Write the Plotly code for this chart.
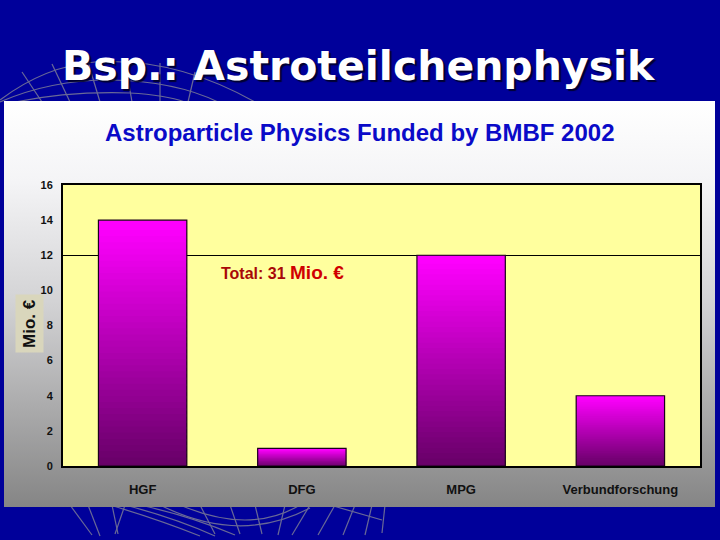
import plotly.graph_objects as go

# ---------------- data ----------------
categories = ["HGF", "DFG", "MPG", "Verbundforschung"]
funding_mio_eur = [14, 1, 12, 4]
y_ticks = [0, 2, 4, 6, 8, 10, 12, 14, 16]
reference_line = [12]
slide_title = "Bsp.: Astroteilchenphysik"
chart_title = "Astroparticle Physics Funded by BMBF 2002"
y_label = "Mio. €"
total_text = "Total: 31"
total_unit = "Mio. €"

# ---------------- layout geometry ----------------
W, H = 720, 540
ML, MR, MT, MB = 63, 20, 185, 74
PW, PH = W - ML - MR, H - MT - MB


def px(x):
    return (x - ML) / PW


def py(y):
    return (H - MB - y) / PH


N_SEG = 40
TOP = (255, 0, 255)
BOT = (100, 0, 100)

fig = go.Figure()

# gradient bars built from stacked, overlapping slices of each value
for i in range(N_SEG):
    t = (i + 0.5) / N_SEG
    c = tuple(round(BOT[k] + (TOP[k] - BOT[k]) * t) for k in range(3))
    col = "rgb(%d,%d,%d)" % c
    bases = [0 if i == 0 else v * (i - 0.6) / N_SEG for v in funding_mio_eur]
    tops = [v * (i + 1) / N_SEG for v in funding_mio_eur]
    fig.add_trace(go.Bar(
        x=categories,
        y=[tp - b for tp, b in zip(tops, bases)],
        base=bases,
        marker=dict(color=col, line=dict(width=0)),
        hoverinfo="skip", showlegend=False,
    ))

# outline
fig.add_trace(go.Bar(
    x=categories, y=funding_mio_eur,
    marker=dict(color="rgba(0,0,0,0)", line=dict(color="#1a001a", width=1.2)),
    hoverinfo="skip", showlegend=False,
))

# reference line via secondary axis grid
fig.add_trace(go.Scatter(x=[None], y=[None], yaxis="y2", showlegend=False, hoverinfo="skip"))


def svg_uri(body, vw=100, vh=100):
    return ("data:image/svg+xml;utf8,<svg xmlns='http://www.w3.org/2000/svg' width='%d' height='%d' "
            "viewBox='0 0 %d %d' preserveAspectRatio='none'>" % (vw, vh, vw, vh) + body + "</svg>")


panel_svg = svg_uri(
    "<defs><linearGradient id='g' x1='0' y1='0' x2='0' y2='1'>"
    "<stop offset='0' stop-color='rgb(255,255,255)'/>"
    "<stop offset='0.2' stop-color='rgb(244,244,246)'/>"
    "<stop offset='0.5' stop-color='rgb(210,210,212)'/>"
    "<stop offset='1' stop-color='rgb(133,133,133)'/>"
    "</linearGradient></defs>"
    "<rect width='100' height='100' fill='url(%23g)'/>"
)
yellow_svg = svg_uri("<rect width='100' height='100' fill='rgb(255,255,158)'/>")

# faint globe wireframe decoration of the slide background
deco_paths = [
    "M0,100 Q45,66 95,62 Q175,57 255,102",
    "M0,102 Q50,80 110,80 Q175,81 218,102",
    "M15,102 Q70,91 130,93 Q165,95 185,102",
    "M22,72 L42,102", "M52,64 L70,102", "M88,62 L100,102", "M125,61 L132,102",
    "M160,63 L160,102", "M195,72 L188,102",
    "M70,505 L92,535", "M88,505 L100,536", "M112,505 L118,534", "M125,505 L115,534",
    "M110,505 Q160,520 200,536", "M125,505 Q175,518 215,536", "M140,505 Q190,516 235,535",
    "M160,505 Q240,545 310,508", "M180,505 Q250,535 300,505",
    "M200,505 L215,534", "M230,505 L240,534", "M255,505 L262,534",
    "M285,505 L278,535", "M310,505 L292,535", "M335,505 L318,535", "M355,505 L343,535",
    "M372,505 L365,535", "M385,505 L382,533",
    "M330,505 L382,520",
]
deco_svg = svg_uri(
    "".join("<path d='%s' fill='none' stroke='rgb(105,105,150)' stroke-width='1.2'/>" % d for d in deco_paths),
    720, 540,
)

fig.update_layout(
    width=W, height=H,
    margin=dict(l=ML, r=MR, t=MT, b=MB),
    paper_bgcolor="#00009A",
    plot_bgcolor="rgba(0,0,0,0)",
    barmode="overlay",
    bargap=0.445,
    showlegend=False,
    font=dict(family="Liberation Sans, Arial, sans-serif", color="#000000"),
    xaxis=dict(
        categoryorder="array", categoryarray=categories,
        showline=True, linecolor="#000000", linewidth=2, mirror=True,
        ticks="outside", ticklen=10, tickcolor="rgba(0,0,0,0)",
        tickfont=dict(size=13, family="Liberation Sans, Arial", color="#111111", weight="bold"),
        showgrid=False, fixedrange=True,
    ),
    yaxis=dict(
        range=[0, 16], tickvals=y_ticks,
        showline=True, linecolor="#000000", linewidth=2, mirror=True,
        showgrid=False, zeroline=False,
        ticks="outside", ticklen=6, tickcolor="rgba(0,0,0,0)",
        tickfont=dict(size=11, family="Liberation Sans, Arial", color="#111111", weight="bold"),
        fixedrange=True,
    ),
    yaxis2=dict(
        overlaying="y", range=[0, 16], tickvals=reference_line,
        showgrid=True, gridcolor="#000000", gridwidth=1.2,
        showticklabels=False, zeroline=False, showline=False,
    ),
    images=[
        dict(source=deco_svg, xref="paper", yref="paper",
             x=px(0), y=py(0), sizex=px(W) - px(0), sizey=py(0) - py(H),
             xanchor="left", yanchor="top", sizing="stretch", layer="below"),
        dict(source=panel_svg, xref="paper", yref="paper",
             x=px(4), y=py(101), sizex=px(715) - px(4), sizey=py(101) - py(507),
             xanchor="left", yanchor="top", sizing="stretch", layer="below"),
        dict(source=yellow_svg, xref="paper", yref="paper",
             x=0, y=1, sizex=1, sizey=1,
             xanchor="left", yanchor="top", sizing="stretch", layer="below"),
    ],
    annotations=[
        # slide title
        dict(text=slide_title, xref="paper", yref="paper", x=px(359), y=py(66),
             xanchor="center", yanchor="middle", showarrow=False,
             font=dict(size=41, family="DejaVu Sans", color="#FFFFFF", weight="bold",
                       shadow="2px 2px 1px rgba(0,0,30,0.85)")),
        # chart title
        dict(text=chart_title, xref="paper", yref="paper", x=px(359), y=py(132),
             xanchor="center", yanchor="middle", showarrow=False,
             font=dict(size=24, family="Liberation Sans, Arial", color="#0A0AC8", weight="bold")),
        # y label
        dict(text="<b>" + y_label + "</b>", xref="paper", yref="paper", x=px(29), y=py(324),
             xanchor="center", yanchor="middle", showarrow=False, textangle=-90,
             bgcolor="#D9D6BC", borderpad=4,
             font=dict(size=17, family="Liberation Sans, Arial", color="#111111")),
        # total
        dict(text="<b>" + total_text + " <span style='font-size:19px;color:#D00000'>" + total_unit + "</span></b>",
             xref="paper", yref="paper", x=px(219), y=py(272),
             xanchor="left", yanchor="middle", showarrow=False,
             font=dict(size=16, family="Liberation Sans, Arial", color="#A80808")),
    ],
)

fig.write_html(
    "out.html",
    config={"displayModeBar": False},
    post_script="document.body.style.margin='0';document.body.style.background='#00009A';",
)
